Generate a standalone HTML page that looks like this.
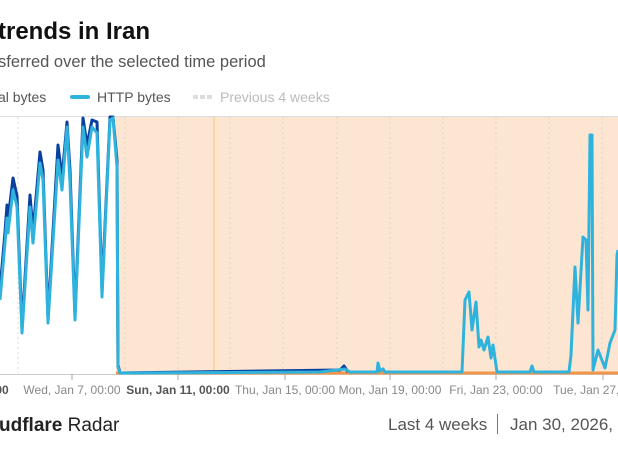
<!DOCTYPE html>
<html><head><meta charset="utf-8"><style>
html,body{margin:0;padding:0;background:#fff;width:618px;height:450px;overflow:hidden;font-family:"Liberation Sans",sans-serif;}
</style></head><body>
<svg width="618" height="450" xmlns="http://www.w3.org/2000/svg" style="position:absolute;left:0;top:0">
<text x="-2" y="39" font-size="24" font-weight="bold" fill="#111">trends in Iran</text>
<text x="-2" y="67" font-size="16.5" fill="#555">sferred over the selected time period</text>
<text x="-2" y="102" font-size="14" fill="#555">al bytes</text>
<rect x="70" y="95" width="20" height="4" rx="2" fill="#2fb3dc"/>
<text x="97" y="102" font-size="14" fill="#555">HTTP bytes</text>
<g fill="#ddd"><rect x="193" y="95" width="5" height="4"/><rect x="200" y="95" width="5" height="4"/><rect x="207" y="95" width="5" height="4"/></g>
<text x="220" y="102" font-size="14" fill="#bbb">Previous 4 weeks</text>
<line x1="0" y1="116.5" x2="618" y2="116.5" stroke="#ddd"/>
<rect x="116" y="117" width="502" height="256" fill="#fce6d2"/>
<g stroke="#d8cfc4" stroke-dasharray="2,3" stroke-width="0.8">
<line x1="18" y1="117" x2="18" y2="373"/><line x1="125" y1="117" x2="125" y2="373"/><line x1="178" y1="117" x2="178" y2="373"/><line x1="230" y1="117" x2="230" y2="373"/><line x1="283" y1="117" x2="283" y2="373"/><line x1="337" y1="117" x2="337" y2="373"/><line x1="390" y1="117" x2="390" y2="373"/><line x1="443" y1="117" x2="443" y2="373"/><line x1="496" y1="117" x2="496" y2="373"/><line x1="549" y1="117" x2="549" y2="373"/><line x1="602" y1="117" x2="602" y2="373"/>
</g>
<line x1="214" y1="117" x2="214" y2="373" stroke="#f5c98a" stroke-width="1.2"/>
<line x1="0" y1="374.5" x2="618" y2="374.5" stroke="#ccc"/>
<g stroke="#aaa"><line x1="72" y1="374" x2="72" y2="380"/><line x1="178" y1="374" x2="178" y2="380"/><line x1="285" y1="374" x2="285" y2="380"/><line x1="390" y1="374" x2="390" y2="380"/><line x1="496" y1="374" x2="496" y2="380"/><line x1="603" y1="374" x2="603" y2="380"/></g>
<line x1="116" y1="373" x2="618" y2="373" stroke="#f0954a" stroke-width="3"/>
<polyline fill="none" stroke="#0a3f9e" stroke-width="3" stroke-linejoin="round" points="0,290 5,232 7,205 8,220 13,178 17,196 22,328 30,195 33,232 40,152 43,170 48,318 58,145 62,178 67,122 70,170 75,315 83,118 87,145 92,120 97,122 102,290 110,117 113,117 117,160 118,365 120,373 340,370 344,366 348,372"/>
<polyline fill="none" stroke="#2fb3dc" stroke-width="3" stroke-linejoin="round" points="0,300 5,243 7,218 8,233 13,190 17,207 22,333 30,207 33,243 40,163 43,180 48,323 58,160 62,190 67,127 70,183 75,320 83,127 87,157 92,127 97,133 102,297 110,120 113,118 117,167 118,367 120,373 320,372 345,369 350,372 377,372 378,363 380,371 383,369 385,372 462,372 465,300 469,292 472,330 476,302 479,347 481,340 484,350 488,337 491,358 493,345 497,372 530,372 532,366 534,372 569,372 571,355 575,267 578,323 583,237 586,240 588,310 590,135 592,135 593,370 598,350 605,368 610,343 615,330 617,255 618,250"/>
<g font-size="12" fill="#888" text-anchor="middle">
<text x="2" y="394" fill="#555" font-weight="bold">00</text>
<text x="72" y="394">Wed, Jan 7, 00:00</text>
<text x="178" y="394" fill="#555" font-weight="bold">Sun, Jan 11, 00:00</text>
<text x="285" y="394">Thu, Jan 15, 00:00</text>
<text x="390" y="394">Mon, Jan 19, 00:00</text>
<text x="496" y="394">Fri, Jan 23, 00:00</text>
<text x="603" y="394">Tue, Jan 27, 00:00</text>
</g>
<text x="-1" y="431" font-size="19" fill="#222"><tspan font-weight="bold">udflare</tspan> Radar</text>
<text x="388" y="430" font-size="17" fill="#555">Last 4 weeks</text>
<line x1="497.5" y1="414" x2="497.5" y2="434" stroke="#777"/>
<text x="510" y="430" font-size="17" fill="#555">Jan 30, 2026,</text>
</svg>
</body></html>
